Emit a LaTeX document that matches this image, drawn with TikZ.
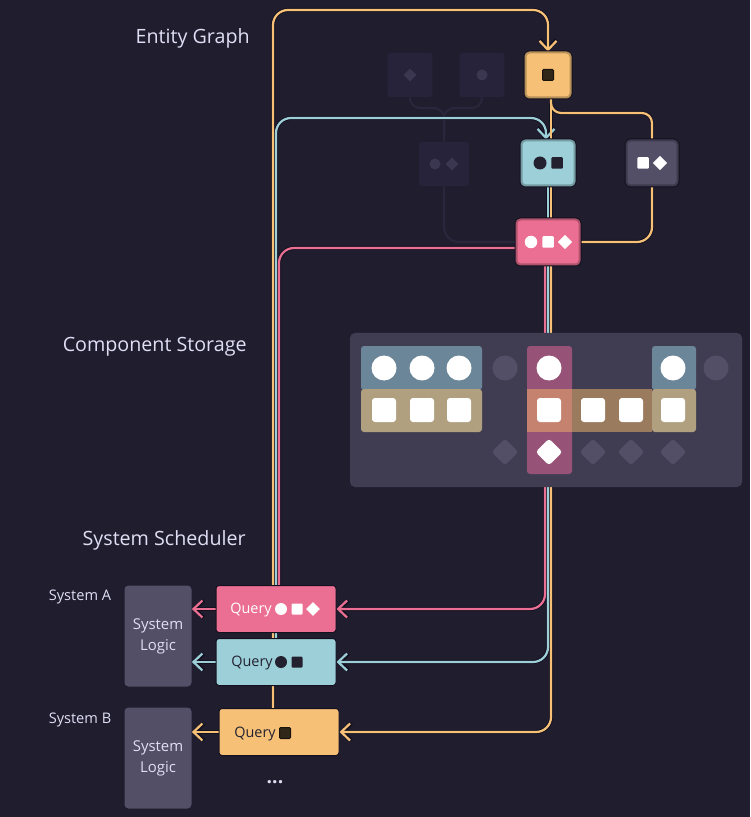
\documentclass[tikz,border=0pt]{standalone}
\usepackage{fontspec}
\setmainfont{Open Sans}
\usetikzlibrary{arrows.meta,shapes.geometric}

\definecolor{base}{HTML}{1F1D2E}
\definecolor{ink}{HTML}{E0DEF4}
\definecolor{qdark}{HTML}{232130}
\definecolor{gold}{HTML}{F6C177}
\definecolor{foam}{HTML}{9CCFD8}
\definecolor{love}{HTML}{EB6F92}
\definecolor{slate}{HTML}{524F67}
\definecolor{panel}{HTML}{403D52}
\definecolor{ghost}{HTML}{26233A}
\definecolor{ghostsym}{HTML}{3B3750}
\definecolor{ghostwire}{HTML}{2A273C}
\definecolor{halocol}{HTML}{131120}
\definecolor{tblblue}{HTML}{6B8698}
\definecolor{tbltan}{HTML}{B0A080}
\definecolor{midtan}{HTML}{9A7B5E}
\definecolor{colpink}{HTML}{965377}
\definecolor{mixpink}{HTML}{C4826F}

\pgfdeclarelayer{bg}
\pgfdeclarelayer{lines}
\pgfsetlayers{bg,lines,main}

\tikzset{
    halo/.style={draw=halocol, line width=0.8mm, line cap=round, line join=round},
    wire/.style={draw=#1, line width=0.44mm, line cap=round, line join=round},
    chev/.style={-{Straight Barb[length=1.8mm, width=3.4mm]}},
}

% every coloured route, drawn once as outline and once in colour
\newcommand{\routes}[1]{%
    \draw[#1=gold, chev, rounded corners=3mm] ([xshift=-1.2mm]qB.north) -- (273,10) -- (548,10) -- (gN.north);
    \draw[#1=foam, chev, rounded corners=3mm] (qC.north) -- (276,118) -| ([xshift=-0.4mm]cN.north);
    \draw[#1=love, rounded corners=3mm] ([xshift=0.6mm]qA.north) |- ([yshift=-1.2mm]pN.west);
    \draw[#1=gold] ([xshift=0.6mm]gN.south) -- ([xshift=0.6mm]cN.north);
    \draw[#1=gold, rounded corners=2mm] ([xshift=0.6mm]gN.south) -- (551,113) -| (wN.north);
    \draw[#1=gold, rounded corners=3mm] (wN.south) |- (pN.east);
    \draw[#1=foam] (cN.south) -- (pN.north);
    \draw[#1=gold] ([xshift=0.6mm]cN.south) -- ([xshift=0.6mm]pN.north);
    \draw[#1=love, chev, rounded corners=3mm] ([xshift=-0.6mm]pN.south) |- (qA.east);
    \draw[#1=foam, chev, rounded corners=3mm] (pN.south) |- (qC.east);
    \draw[#1=gold, chev, rounded corners=3mm] ([xshift=0.6mm]pN.south) |- (qB.east);
    \draw[#1=love, chev] (qA.west) -- (lA.east |- qA.west);
    \draw[#1=foam, chev] (qC.west) -- (lA.east |- qC.west);
    \draw[#1=gold, chev] (qB.west) -- (lB.east |- qB.west);
}

\begin{document}
\begin{tikzpicture}[
        x=0.2mm, y=-0.2mm,
        every node/.style={inner sep=0pt},
        title/.style={text=ink, anchor=east, font=\fontsize{11.2}{13}\selectfont},
        sys/.style={text=ink, font=\fontsize{8.3}{10}\selectfont},
        gnode/.style={fill=#1, draw=#1!75!black, line width=0.4mm, rounded corners=0.8mm,
            minimum height=9mm, preaction={draw=halocol, line width=0.8mm}},
        ghostbox/.style={fill=ghost, rounded corners=0.6mm, minimum width=9mm, minimum height=8.8mm},
        ghostline/.style={draw=ghostwire, line width=0.4mm},
        query/.style={fill=#1, draw=halocol, line width=0.2mm, rounded corners=0.6mm,
            minimum width=24mm, minimum height=9.4mm},
        qtext/.style={anchor=west, font=\fontsize{8.2}{10}\selectfont},
        logic/.style={fill=slate, rounded corners=0.8mm, minimum width=13.4mm, minimum height=20.2mm,
            align=center, text=ink, font=\fontsize{8.5}{12}\selectfont},
        dot/.style={circle, fill=#1},
        sq/.style={rectangle, fill=#1, rounded corners=0.2mm},
        dia/.style={diamond, fill=#1},
    ]
    \useasboundingbox (0,0) rectangle (750,817);
    \begin{pgfonlayer}{bg}
        \fill[base] (0,0) rectangle (750,817);
    \end{pgfonlayer}

    \node[title] (tEG) at (250,38) {Entity Graph};
    \node[title] (tCS) at (247,347) {Component Storage};
    \node[title] (tSS) at (246,540) {System Scheduler};

    % entity graph
    \node[ghostbox] (fD) at (410,75) {};
    \node[ghostbox] (fC) at (482,75) {};
    \node[ghostbox, minimum width=10mm] (fCD) at (444,164) {};
    \node[dia=ghostsym, minimum size=2.6mm] (fDd) at (410,75) {};
    \node[dot=ghostsym, minimum size=2.2mm] (fCc) at (482,75) {};
    \node[dot=ghostsym, minimum size=2.2mm] (fCDc) at (435,164) {};
    \node[dia=ghostsym, minimum size=2.6mm] (fCDd) at (452,164) {};

    \node[gnode=gold, minimum width=9mm] (gN) at (548,75) {};
    \node[gnode=foam, minimum width=10.6mm] (cN) at (548,163) {};
    \node[gnode=slate, minimum width=10.2mm] (wN) at (652,163) {};
    \node[gnode=love, minimum width=12.6mm] (pN) at (548,242) {};

    \node[sq=gold!20!black, draw=gold!10!black, line width=0.2mm, minimum size=2.2mm] (gNs) at (548,75) {};
    \node[dot=qdark, minimum size=2.6mm] (cNc) at (540,163) {};
    \node[sq=qdark, minimum size=2.3mm] (cNs) at (557,163) {};
    \node[sq=white, minimum size=2.3mm] (wNs) at (643,163) {};
    \node[dia=white, minimum size=2.9mm] (wNd) at (660,163) {};
    \node[dot=white, minimum size=2.5mm] (pNc) at (531,242) {};
    \node[sq=white, minimum size=2.3mm] (pNs) at (548,242) {};
    \node[dia=white, minimum size=2.9mm] (pNd) at (565,242) {};

    % component storage
    \fill[panel, rounded corners=1mm] (350,333) rectangle (742,487);
    \fill[tblblue, rounded corners=0.6mm] (361,346) rectangle (482,390);
    \fill[tbltan, rounded corners=0.6mm] (361,389) rectangle (482,432);
    \fill[colpink, rounded corners=0.6mm] (527,346) rectangle (572,474);
    \fill[midtan] (572,389) rectangle (652,432);
    \fill[mixpink] (527,389) rectangle (572,432);
    \fill[tblblue, rounded corners=0.6mm] (652,346) rectangle (696,390);
    \fill[tbltan, rounded corners=0.6mm] (652,389) rectangle (696,432);

    \node[dot=white, minimum size=5mm] (c1) at (384,368) {};
    \node[dot=white, minimum size=5mm] (c2) at (422,368) {};
    \node[dot=white, minimum size=5mm] (c3) at (459,368) {};
    \node[dot=slate, minimum size=5mm] (c4) at (505,368) {};
    \node[dot=white, minimum size=5mm] (c5) at (549,368) {};
    \node[dot=white, minimum size=5mm] (c6) at (673,368) {};
    \node[dot=slate, minimum size=5mm] (c7) at (716,368) {};

    \node[sq=white, minimum size=4.8mm, rounded corners=0.6mm] (s1) at (384,410) {};
    \node[sq=white, minimum size=4.8mm, rounded corners=0.6mm] (s2) at (422,410) {};
    \node[sq=white, minimum size=4.8mm, rounded corners=0.6mm] (s3) at (459,410) {};
    \node[sq=white, minimum size=4.8mm, rounded corners=0.6mm] (s4) at (549,410) {};
    \node[sq=white, minimum size=4.8mm, rounded corners=0.6mm] (s5) at (593,410) {};
    \node[sq=white, minimum size=4.8mm, rounded corners=0.6mm] (s6) at (631,410) {};
    \node[sq=white, minimum size=4.8mm, rounded corners=0.6mm] (s7) at (673,410) {};

    \node[dia=slate, minimum size=5.4mm, rounded corners=0.6mm] (d1) at (505,452) {};
    \node[dia=white, minimum size=5.4mm, rounded corners=0.6mm] (d2) at (549,452) {};
    \node[dia=slate, minimum size=5.4mm, rounded corners=0.6mm] (d3) at (593,452) {};
    \node[dia=slate, minimum size=5.4mm, rounded corners=0.6mm] (d4) at (631,452) {};
    \node[dia=slate, minimum size=5.4mm, rounded corners=0.6mm] (d5) at (673,452) {};

    % system scheduler
    \node[sys] (sA) at (80,597) {System A};
    \node[sys] (sB) at (80,720) {System B};
    \node[logic] (lA) at (158,636) {System\\Logic};
    \node[logic] (lB) at (158,758) {System\\Logic};

    \node[query=love] (qA) at (276,609) {};
    \node[query=foam] (qC) at (276,662) {};
    \node[query=gold] (qB) at (279,732) {};
    \node[qtext, text=white] (qAt) at (230,610) {Query};
    \node[qtext, text=qdark] (qCt) at (231,663) {Query};
    \node[qtext, text=qdark] (qBt) at (234,734) {Query};
    \node[dot=white, minimum size=2.4mm] (qAc) at (281,609) {};
    \node[sq=white, minimum size=2.2mm] (qAs) at (297,609) {};
    \node[dia=white, minimum size=2.8mm] (qAd) at (313,609) {};
    \node[dot=qdark, minimum size=2.4mm] (qCc) at (281,662) {};
    \node[sq=qdark, minimum size=2.2mm] (qCs) at (297,662) {};
    \node[sq=gold!20!black, draw=gold!10!black, line width=0.2mm, minimum size=2.2mm] (qBs) at (285,733) {};
    \node[text=ink, font=\bfseries\fontsize{11}{12}\selectfont] (more) at (275,782) {...};

    \begin{pgfonlayer}{lines}
        \draw[ghostline, rounded corners=2mm] (fD.south) -- (410,108) -| (fCD.north);
        \draw[ghostline, rounded corners=2mm] (fC.south) -- (482,108) -| (fCD.north);
        \draw[ghostline, rounded corners=3mm] (fCD.south) |- (pN.west);
        \routes{halo}
        \routes{wire}
    \end{pgfonlayer}
\end{tikzpicture}
\end{document}
